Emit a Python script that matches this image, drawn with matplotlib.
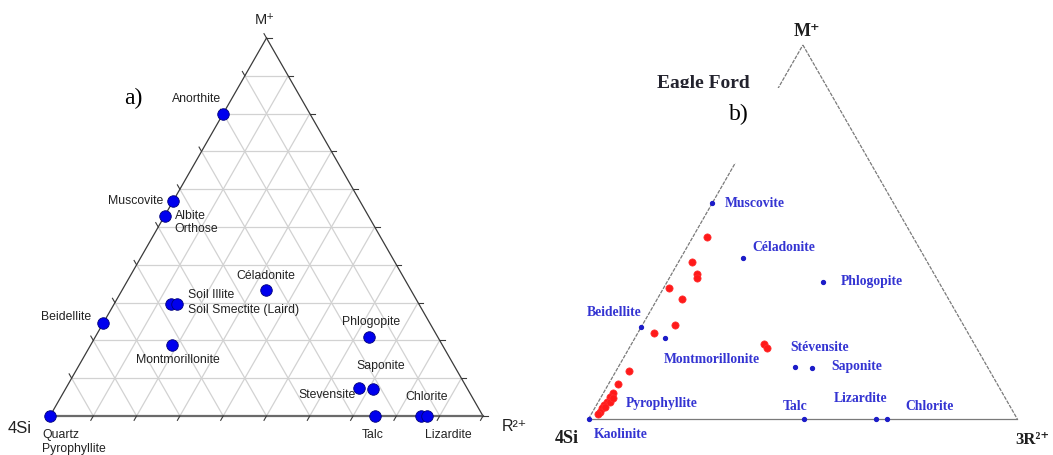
import matplotlib
matplotlib.use("Agg")
import matplotlib.pyplot as plt
from matplotlib.patches import Rectangle

# ---------------------------------------------------------------------------
# a) reference minerals in the M+ / 4Si / R2+ ternary (fractions of M+ and R2+;
#    4Si is the remainder)
a_names = ["Anorthite", "Muscovite", "Albite", "Beidellite", "Quartz",
           "Soil Illite", "Soil Smectite (Laird)", "Céladonite",
           "Montmorillonite", "Phlogopite", "Stevensite", "Saponite",
           "Talc", "Chlorite", "Lizardite"]
a_m = [0.80, 0.57, 0.53, 0.245, 0.0, 0.295, 0.295, 0.333,
       0.187, 0.21, 0.075, 0.071, 0.0, 0.0, 0.0]
a_r = [0.0, 0.0, 0.0, 0.0, 0.0, 0.132, 0.145, 0.333,
       0.188, 0.632, 0.675, 0.711, 0.75, 0.856, 0.870]

# label text -> mineral whose point it names
a_label_text = ["Anorthite", "Muscovite", "Albite", "Orthose", "Beidellite",
                "Quartz", "Pyrophyllite", "Soil Illite", "Soil Smectite (Laird)",
                "Céladonite", "Montmorillonite", "Phlogopite", "Stevensite",
                "Saponite", "Talc", "Chlorite", "Lizardite"]
a_label_at = ["Anorthite", "Muscovite", "Albite", "Albite", "Beidellite",
              "Quartz", "Quartz", "Soil Illite", "Soil Smectite (Laird)",
              "Céladonite", "Montmorillonite", "Phlogopite", "Stevensite",
              "Saponite", "Talc", "Chlorite", "Lizardite"]

# b) Eagle Ford clays against reference end-members (M+ / 4Si / 3R2+)
b_names = ["Kaolinite", "Muscovite", "Céladonite", "Phlogopite", "Beidellite",
           "Montmorillonite", "Stévensite", "Saponite", "Talc", "Lizardite",
           "Chlorite"]
b_m = [0.0, 0.577, 0.431, 0.3655, 0.247, 0.217, 0.14, 0.137, 0.0, 0.0, 0.0]
b_r = [0.0, 0.0, 0.144, 0.365, 0.0, 0.071, 0.412, 0.453, 0.503, 0.670, 0.695]

b_label_text = ["Kaolinite", "Pyrophyllite", "Muscovite", "Céladonite",
                "Phlogopite", "Beidellite", "Montmorillonite", "Stévensite",
                "Saponite", "Talc", "Lizardite", "Chlorite"]
b_label_at = ["Kaolinite", "Kaolinite", "Muscovite", "Céladonite",
              "Phlogopite", "Beidellite", "Montmorillonite", "Stévensite",
              "Saponite", "Talc", "Lizardite", "Chlorite"]

ef_m = [0.486, 0.421, 0.387, 0.376, 0.349, 0.322, 0.251, 0.229, 0.2005, 0.191,
        0.128, 0.093, 0.069, 0.058, 0.046, 0.037, 0.029, 0.0195, 0.013,
        0.033, 0.046, 0.055]
ef_r = [0.034, 0.030, 0.059, 0.066, 0.014, 0.057, 0.076, 0.038, 0.310, 0.320,
        0.030, 0.023, 0.023, 0.021, 0.019, 0.017, 0.016, 0.017, 0.016,
        0.022, 0.027, 0.030]

# ---------------------------------------------------------------------------
# label placement (offset in pixels from the point, horizontal alignment)
a_label_style = {
    "Anorthite": ((-27, 15), "center"),
    "Muscovite": ((-10, 0), "right"),
    "Albite": ((10, 0), "left"),
    "Orthose": ((10, -13), "left"),
    "Céladonite": ((0, 14), "center"),
    "Soil Illite": ((17, 9), "left"),
    "Soil Smectite (Laird)": ((11, -6), "left"),
    "Beidellite": ((-12, 6), "right"),
    "Montmorillonite": ((6, -15), "center"),
    "Phlogopite": ((2, 15), "center"),
    "Saponite": ((7, 23), "center"),
    "Stevensite": ((-3, -7), "right"),
    "Chlorite": ((6, 19), "center"),
    "Lizardite": ((22, -19), "center"),
    "Talc": ((-2, -19), "center"),
    "Quartz": ((-8, -19), "left"),
    "Pyrophyllite": ((-8, -33), "left"),
}
b_label_style = {
    "Muscovite": ((13, 0), "left"),
    "Céladonite": ((10, 10), "left"),
    "Phlogopite": ((17, 1), "left"),
    "Beidellite": ((0, 14), "right"),
    "Montmorillonite": ((46, -22), "center"),
    "Stévensite": ((-5, 19), "left"),
    "Saponite": ((19, 1), "left"),
    "Lizardite": ((-42, 21), "left"),
    "Chlorite": ((19, 12), "left"),
    "Talc": ((-21, 13), "left"),
    "Pyrophyllite": ((37, 15), "left"),
    "Kaolinite": ((5, -15), "left"),
}

W_PX, H_PX, DPI = 1053, 455, 100
SANS = ["Liberation Sans", "DejaVu Sans"]
SERIF = ["Liberation Serif", "DejaVu Serif"]


def tern(m, r):
    """M+ fraction m and R2+ fraction r -> x, y in a unit-base triangle box."""
    if isinstance(m, (list, tuple)):
        return [ri + mi / 2 for mi, ri in zip(m, r)], list(m)
    return r + m / 2, m


def tri_axes(fig, left, top, right, bottom):
    """Axes whose unit box is the triangle's pixel bounding box."""
    ax = fig.add_axes([left / W_PX, (H_PX - bottom) / H_PX,
                       (right - left) / W_PX, (bottom - top) / H_PX])
    ax.set_xlim(0, 1)
    ax.set_ylim(0, 1)
    ax.axis("off")
    return ax


fig = plt.figure(figsize=(W_PX / DPI, H_PX / DPI), dpi=DPI)
fig.patch.set_facecolor("white")

# ============================ panel a ======================================
ax = tri_axes(fig, 50, 38, 483, 416)
grid_kw = dict(color="#d2d2d2", lw=0.9, zorder=1, solid_capstyle="butt")
for k in range(1, 10):
    f = k / 10
    ax.plot(*tern([f, f], [0, 1 - f]), **grid_kw)
    ax.plot(*tern([0, 1 - f], [f, f]), **grid_kw)
    ax.plot(*tern([0, 1 - f], [1 - f, 0]), **grid_kw)

ax.plot(*tern([0, 1], [0, 0]), color="#3a3a3a", lw=0.9, zorder=2, clip_on=False)
ax.plot(*tern([1, 0], [0, 1]), color="#3a3a3a", lw=0.9, zorder=2, clip_on=False)
ax.plot(*tern([0, 0], [0, 1]), color="#6a6a6a", lw=1.6, zorder=2, clip_on=False)

# small outward ticks every 10 %
tick_len = 5.0
for k in range(0, 11):
    f = k / 10
    for (m, r), (ux, uy) in [((f, 1 - f), (1.0, 0.0)),
                             ((f, 0.0), (-0.5, 0.866)),
                             ((0.0, f), (-0.5, -0.866))]:
        x0, y0 = tern(m, r)
        ax.plot([x0, x0 + tick_len * ux / 433], [y0, y0 + tick_len * uy / 378],
                color="#3a3a3a", lw=0.8, clip_on=False, zorder=2)

ax.plot(*tern(a_m, a_r), "o", ms=8.3, mfc="#0000ee", mec="#00007a", mew=0.6,
        ls="none", clip_on=False, zorder=4)

a_pos = {n: tern(m, r) for n, m, r in zip(a_names, a_m, a_r)}
for txt, at in zip(a_label_text, a_label_at):
    (dx, dy), ha = a_label_style[txt]
    ax.annotate(txt, a_pos[at], xytext=(dx, dy), textcoords="offset pixels",
                ha=ha, va="center", fontsize=8.8, family=SANS, color="#222222",
                annotation_clip=False, zorder=5)

ax.text(0.497, 1.048, "M⁺", ha="center", va="center", fontsize=10.5,
        family=SANS, color="#222222")
ax.text(-0.069, -0.032, "4Si", ha="center", va="center", fontsize=12,
        family=SANS, color="#222222")
ax.text(1.044, -0.029, "R²⁺", ha="left", va="center", fontsize=11.5,
        family=SANS, color="#222222")
ax.text(0.192, 0.841, "a)", ha="center", va="center", fontsize=17,
        family=SERIF, color="black")

# ============================ panel b ======================================
bx = tri_axes(fig, 588.5, 45, 1017.3, 419)
edge_kw = dict(color="#7a7a7a", lw=0.9, clip_on=False, zorder=2)
bx.plot(*tern([0, 1], [0, 0]), ls=(0, (3, 1)), **edge_kw)
bx.plot(*tern([1, 0], [0, 1]), ls=(0, (3, 1)), **edge_kw)
bx.plot(*tern([0, 0], [0, 1]), **edge_kw)

bx.text(0.159, 0.885, "Eagle Ford", ha="left", va="baseline", fontsize=14,
        family=SERIF, weight="bold", color="#23232e", zorder=3)
# white label panel behind "b)"
bx.add_patch(Rectangle((0.12, 0.684), 0.331, 0.201, facecolor="white",
                       edgecolor="none", zorder=6, clip_on=False))
bx.text(0.351, 0.813, "b)", ha="center", va="center", fontsize=17,
        family=SERIF, color="black", zorder=7)

bx.plot(*tern(ef_m, ef_r), "o", ms=5.2, mfc="#ff1a1a", mec="#ff3030",
        mew=0.5, ls="none", clip_on=False, zorder=4)
bx.plot(*tern(b_m, b_r), "o", ms=2.8, mfc="#1c1cc8", mec="#1c1cc8",
        ls="none", clip_on=False, zorder=5)

b_pos = {n: tern(m, r) for n, m, r in zip(b_names, b_m, b_r)}
for txt, at in zip(b_label_text, b_label_at):
    (dx, dy), ha = b_label_style[txt]
    bx.annotate(txt, b_pos[at], xytext=(dx, dy), textcoords="offset pixels",
                ha=ha, va="center", fontsize=9.8, family=SERIF, weight="bold",
                color="#3434d2", annotation_clip=False, zorder=5)

bx.text(0.51, 1.035, "M⁺", ha="center", va="center", fontsize=13,
        family=SERIF, weight="bold", color="#1e1e1e")
bx.text(-0.05, -0.051, "4Si", ha="center", va="center", fontsize=13,
        family=SERIF, weight="bold", color="#1e1e1e")
bx.text(0.995, -0.056, "3R²⁺", ha="left", va="center", fontsize=12,
        family=SERIF, weight="bold", color="#1e1e1e")

fig.savefig("out.png", dpi=DPI)
